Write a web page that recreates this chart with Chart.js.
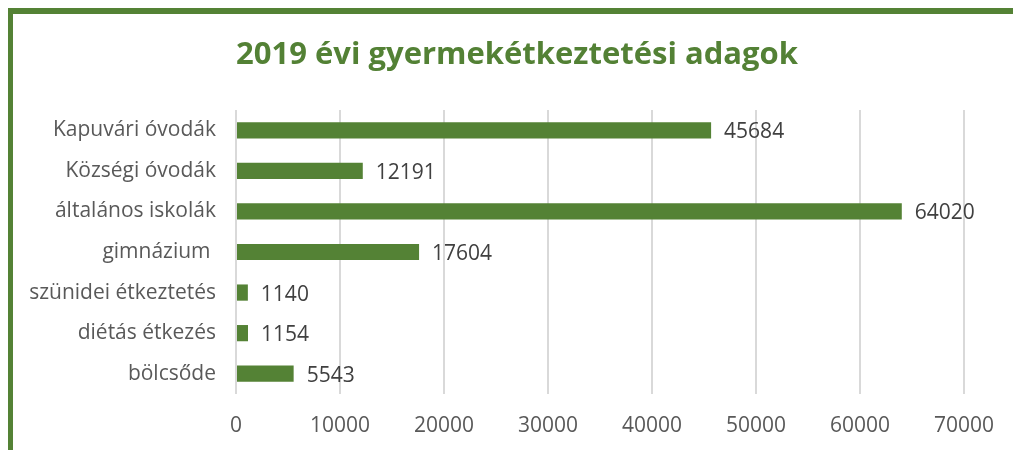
<!DOCTYPE html>
<html>
<head>
<meta charset="utf-8">
<script src="https://cdn.jsdelivr.net/npm/chart.js@4/dist/chart.umd.min.js"></script>
<style>
  html, body { margin: 0; padding: 0; background: #fff; }
  #wrap { position: relative; width: 1013px; height: 450px; overflow: hidden; }
  #frame {
    position: absolute; left: 8px; top: 8px; width: 1100px; height: 500px;
    border-left: 5px solid #548235; border-top: 6px solid #548235;
    box-sizing: border-box;
  }
  canvas { position: absolute; left: 0; top: 0; }
</style>
</head>
<body>
<div id="wrap">
  <div id="frame"></div>
  <canvas id="chart" width="1013" height="450"></canvas>
</div>
<script>
const categories = ["Kapuvári óvodák", "Községi óvodák", "általános iskolák", "gimnázium ", "szünidei étkeztetés", "diétás étkezés", "bölcsőde"];
const portions = [45684, 12191, 64020, 17604, 1140, 1154, 5543];
const xTicks = [0, 10000, 20000, 30000, 40000, 50000, 60000, 70000];
const title = "2019 évi gyermekétkeztetési adagok";

const green = "#548235";
const font = "'Open Sans', 'Noto Sans', sans-serif";

// title and value labels
const extras = {
  id: "extras",
  afterDatasetsDraw(chart) {
    const ctx = chart.ctx;
    const meta = chart.getDatasetMeta(0);
    ctx.save();
    ctx.font = "bold 31px " + font;
    ctx.fillStyle = "#538135";
    ctx.textAlign = "center";
    ctx.textBaseline = "middle";
    ctx.fillText(title, 517, 55);

    ctx.font = "21px " + font;
    ctx.fillStyle = "#404040";
    ctx.textAlign = "left";
    meta.data.forEach((bar, i) => {
      ctx.fillText(String(portions[i]), bar.x + 13, bar.y + 2);
    });
    ctx.restore();
  }
};

new Chart(document.getElementById("chart"), {
  type: "bar",
  data: {
    labels: categories,
    datasets: [{
      data: portions,
      backgroundColor: green,
      barPercentage: 0.4,
      categoryPercentage: 1
    }]
  },
  options: {
    indexAxis: "y",
    responsive: false,
    animation: false,
    layout: { padding: { top: 110, right: 49, bottom: 12, left: 20 } },
    plugins: {
      legend: { display: false },
      tooltip: { enabled: false },
      title: { display: false }
    },
    scales: {
      x: {
        min: 0, max: 70000,
        afterBuildTicks: s => { s.ticks = xTicks.map(v => ({ value: v })); },
        afterFit: s => { s.height = 44; },
        grid: { color: "#d9d9d9", lineWidth: 2, drawTicks: false },
        border: { display: false },
        ticks: {
          color: "#595959", font: { family: font, size: 21 }, padding: 19,
          callback: v => String(v)
        }
      },
      y: {
        grid: { display: false, drawTicks: false },
        border: { display: false },
        afterFit: s => { s.width = 216; },
        ticks: { color: "#595959", font: { family: font, size: 21 }, padding: 20 }
      }
    }
  },
  plugins: [extras]
});
</script>
</body>
</html>
